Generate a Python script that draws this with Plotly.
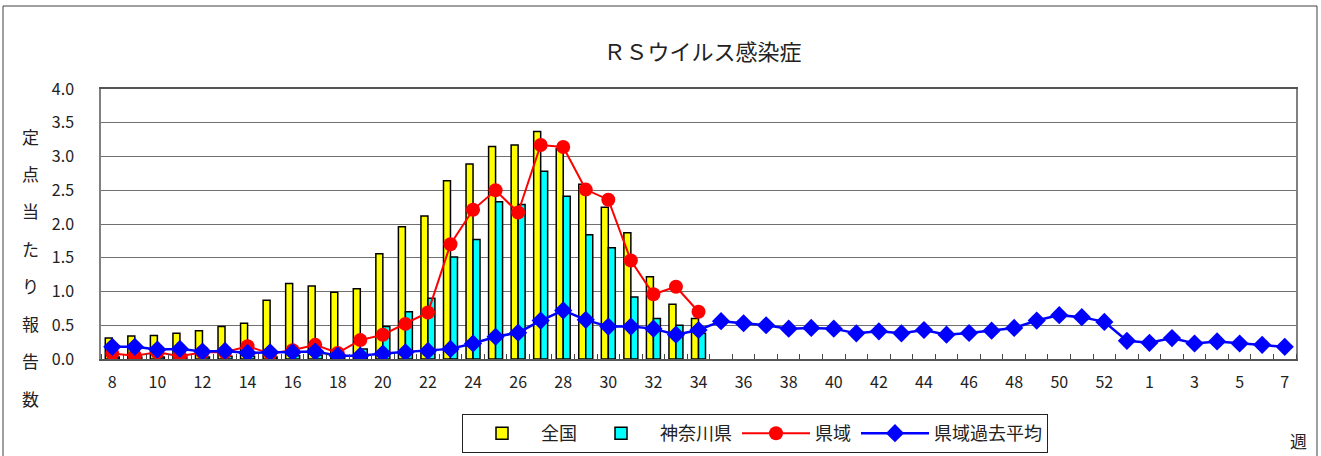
import plotly.graph_objects as go

# ---- data ----
weeks = [str(w) for w in range(8, 54)] + [str(w) for w in range(1, 8)]

national = [0.31, 0.34, 0.35, 0.38, 0.42, 0.48, 0.53, 0.87, 1.12, 1.08,
            0.99, 1.04, 1.56, 1.96, 2.12, 2.64, 2.89, 3.15, 3.17, 3.37,
            3.12, 2.59, 2.25, 1.87, 1.22, 0.81, 0.60]
kanagawa = [0.03, 0.03, 0.03, 0.03, 0.03, 0.04, 0.04, 0.03, 0.05, 0.06,
            0.05, 0.15, 0.48, 0.70, 0.90, 1.51, 1.77, 2.33, 2.29, 2.78,
            2.41, 1.84, 1.65, 0.92, 0.60, 0.50, 0.38]
region = [0.08, 0.05, 0.10, 0.04, 0.10, 0.10, 0.19, 0.08, 0.13, 0.21,
          0.09, 0.28, 0.36, 0.52, 0.69, 1.70, 2.21, 2.50, 2.17, 3.17,
          3.14, 2.51, 2.36, 1.46, 0.96, 1.07, 0.70]
region_avg = [0.18, 0.18, 0.14, 0.15, 0.11, 0.12, 0.09, 0.10, 0.10, 0.11,
              0.05, 0.05, 0.08, 0.10, 0.12, 0.15, 0.23, 0.33, 0.39, 0.57,
              0.72, 0.58, 0.48, 0.48, 0.45, 0.36, 0.43, 0.56, 0.53, 0.50,
              0.45, 0.46, 0.45, 0.38, 0.41, 0.38, 0.43, 0.36, 0.385, 0.42,
              0.46, 0.57, 0.65, 0.62, 0.55, 0.27, 0.24, 0.31, 0.23, 0.26,
              0.23, 0.21, 0.18]

series_names = ["全国", "神奈川県", "県域", "県域過去平均"]
title_text = "ＲＳウイルス感染症"
ylabel_text = "定点当たり報告数"
xunit_text = "週"
yticks = [0.0, 0.5, 1.0, 1.5, 2.0, 2.5, 3.0, 3.5, 4.0]

idx = list(range(len(weeks)))
W, H = 1321, 456
L, R, T, B = 101, 1296, 89, 359
font = "Noto Sans CJK JP"

fig = go.Figure()
fig.add_trace(go.Bar(x=idx[:len(national)], y=national, name=series_names[0],
                     marker=dict(color="#FFFF00", line=dict(color="black", width=1.5))))
fig.add_trace(go.Bar(x=idx[:len(kanagawa)], y=kanagawa, name=series_names[1],
                     marker=dict(color="#00FFFF", line=dict(color="black", width=1.5))))
fig.add_trace(go.Scatter(x=idx[:len(region)], y=region, name=series_names[2],
                         mode="lines+markers", line=dict(color="#FF0000", width=2),
                         marker=dict(symbol="circle", size=14, color="#FF0000")))
fig.add_trace(go.Scatter(x=idx[:len(region_avg)], y=region_avg, name=series_names[3],
                         mode="lines+markers", line=dict(color="#0000FF", width=2.5),
                         marker=dict(symbol="diamond", size=14, color="#0000FF")))

pw, ph = R - L, B - T
def px(x):
    return (x - L) / pw
def py(y):
    return (B - y) / ph

annotations = []
# vertical y-axis label
n = len(ylabel_text)
for i, ch in enumerate(ylabel_text):
    yy = 136 + i * (398 - 136) / (n - 1)
    annotations.append(dict(text=ch, x=px(30), y=py(yy), xref="paper", yref="paper",
                            showarrow=False, xanchor="center", yanchor="middle",
                            font=dict(family=font, size=17, color="#222")))
annotations.append(dict(text=xunit_text, x=px(1298), y=py(440), xref="paper", yref="paper",
                        showarrow=False, xanchor="center", yanchor="middle",
                        font=dict(family=font, size=17, color="#222")))

fig.update_layout(
    width=W, height=H,
    margin=dict(l=L, r=W - R, t=T, b=H - B, pad=0, autoexpand=False),
    paper_bgcolor="white", plot_bgcolor="white",
    barmode="group", bargap=0.38, bargroupgap=0.0,
    title=dict(text=title_text, x=(605 + 800) / 2 / W, xanchor="center",
               y=1 - 52 / H, yanchor="middle",
               font=dict(family=font, size=22, color="#222")),
    showlegend=True,
    legend=dict(orientation="h", x=px(755), xanchor="center", y=py(414), yanchor="top",
                bordercolor="#222", borderwidth=1, bgcolor="white",
                font=dict(family=font, size=18, color="#222"),
                traceorder="normal", itemwidth=68),
    annotations=annotations,
    shapes=[dict(type="rect", xref="paper", yref="paper",
                 x0=px(3), x1=px(1317), y0=py(520), y1=py(6),
                 line=dict(color="#404040", width=1), layer="below")],
)

fig.update_xaxes(range=[-0.5, len(weeks) - 0.5],
                 tickmode="array", tickvals=idx[::2], ticktext=weeks[::2],
                 ticks="", showgrid=False,
                 showline=True, linecolor="#555", linewidth=1.5, mirror=True,
                 tickfont=dict(family=font, size=16, color="#222"),
                 ticklabelstandoff=8,
                 minor=dict(tickmode="array", tickvals=[i - 0.5 for i in idx] + [len(weeks) - 0.5],
                            ticks="inside", ticklen=5, tickcolor="#444", tickwidth=1, showgrid=False))
fig.update_yaxes(range=[0, 4], tickmode="array", tickvals=yticks,
                 ticktext=[f"{v:.1f}" for v in yticks],
                 showgrid=True, gridcolor="#707070", gridwidth=1,
                 showline=True, linecolor="#808080", linewidth=1.5, mirror=True,
                 ticks="", zeroline=False,
                 tickfont=dict(family=font, size=16, color="#222"),
                 ticklabelstandoff=22)

fig.write_html("out.html", config={"displayModeBar": False},
               post_script="document.body.style.margin='0';")
